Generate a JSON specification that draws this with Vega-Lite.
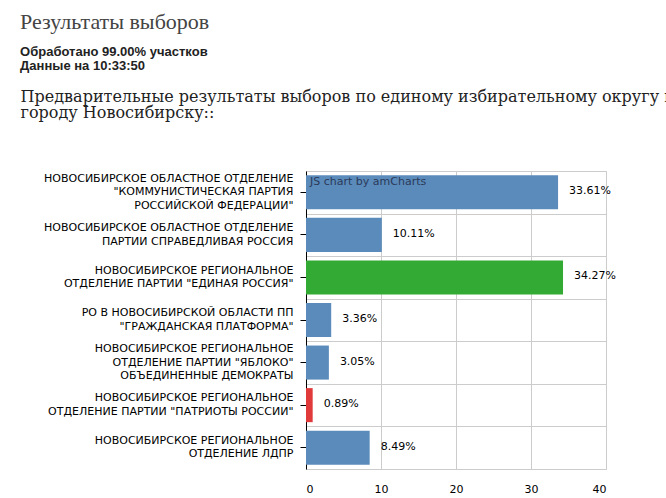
{
  "$schema": "https://vega.github.io/schema/vega-lite/v6.json",
  "background": "white",
  "padding": {"left": 20, "top": 11, "right": 0, "bottom": 0},
  "title": {
    "text": "Результаты выборов",
    "subtitle": ["Обработано 99.00% участков", "Данные на 10:33:50"],
    "anchor": "start",
    "font": "Liberation Serif",
    "fontSize": 22,
    "fontWeight": "normal",
    "color": "#444444",
    "subtitleFont": "Liberation Sans",
    "subtitleFontSize": 13,
    "subtitleFontWeight": "bold",
    "subtitleColor": "#222222",
    "subtitleLineHeight": 13.5,
    "subtitlePadding": 12,
    "offset": 15
  },
  "vconcat": [
    {
      "width": 300,
      "height": 298,
      "title": {
        "text": ["Предварительные результаты выборов по единому избирательному округу по", "городу Новосибирску::"],
        "anchor": "start",
        "font": "DejaVu Serif",
        "fontSize": 16,
        "fontWeight": "normal",
        "color": "#222222",
        "lineHeight": 16,
        "offset": 50,
        "dx": -23
      },
      "data": {
        "values": [
          {"party": "НОВОСИБИРСКОЕ ОБЛАСТНОЕ ОТДЕЛЕНИЕ|\"КОММУНИСТИЧЕСКАЯ ПАРТИЯ|РОССИЙСКОЙ ФЕДЕРАЦИИ\"", "pct": 33.61},
          {"party": "НОВОСИБИРСКОЕ ОБЛАСТНОЕ ОТДЕЛЕНИЕ|ПАРТИИ СПРАВЕДЛИВАЯ РОССИЯ", "pct": 10.11},
          {"party": "НОВОСИБИРСКОЕ РЕГИОНАЛЬНОЕ|ОТДЕЛЕНИЕ ПАРТИИ \"ЕДИНАЯ РОССИЯ\"", "pct": 34.27},
          {"party": "РО В НОВОСИБИРСКОЙ ОБЛАСТИ ПП|\"ГРАЖДАНСКАЯ ПЛАТФОРМА\"", "pct": 3.36},
          {"party": "НОВОСИБИРСКОЕ РЕГИОНАЛЬНОЕ|ОТДЕЛЕНИЕ ПАРТИИ \"ЯБЛОКО\"|ОБЪЕДИНЕННЫЕ ДЕМОКРАТЫ", "pct": 3.05},
          {"party": "НОВОСИБИРСКОЕ РЕГИОНАЛЬНОЕ|ОТДЕЛЕНИЕ ПАРТИИ \"ПАТРИОТЫ РОССИИ\"", "pct": 0.89},
          {"party": "НОВОСИБИРСКОЕ РЕГИОНАЛЬНОЕ|ОТДЕЛЕНИЕ ЛДПР", "pct": 8.49}
        ]
      },
      "resolve": {"scale": {"y": "shared", "x": "shared"}, "axis": {"y": "independent"}},
      "layer": [
        {
          "mark": {"type": "bar", "height": {"band": 0.8}},
          "encoding": {
            "y": {
              "field": "party",
              "type": "nominal",
              "sort": null,
              "scale": {"paddingInner": 0, "paddingOuter": 0},
              "axis": {
                "title": null,
                "orient": "left",
                "labelExpr": "split(datum.value, '|')",
                "labelFont": "DejaVu Sans",
                "labelFontSize": 11,
                "labelColor": "#000000",
                "labelLineHeight": 13.5,
                "labelLimit": 400,
                "labelPadding": 7,
                "labelAlign": "right",
                "labelBaseline": "middle",
                "labelOffset": {
                  "condition": {"test": "length(split(datum.value, '|')) >= 3", "value": -13.5},
                  "value": -6.75
                },
                "tickColor": "#000000",
                "tickSize": 6,
                "domainColor": "#000000",
                "grid": false
              }
            },
            "x": {
              "field": "pct",
              "type": "quantitative",
              "scale": {"domain": [0, 40], "nice": false},
              "axis": {
                "title": null,
                "values": [0, 10, 20, 30, 40],
                "grid": true,
                "gridColor": "#cccccc",
                "domain": false,
                "ticks": false,
                "labelFont": "DejaVu Sans",
                "labelFontSize": 11,
                "labelColor": "#000000",
                "labelPadding": 14
              }
            },
            "color": {
              "field": "party",
              "type": "nominal",
              "legend": null,
              "scale": {
                "domain": [
                  "НОВОСИБИРСКОЕ ОБЛАСТНОЕ ОТДЕЛЕНИЕ|\"КОММУНИСТИЧЕСКАЯ ПАРТИЯ|РОССИЙСКОЙ ФЕДЕРАЦИИ\"",
                  "НОВОСИБИРСКОЕ ОБЛАСТНОЕ ОТДЕЛЕНИЕ|ПАРТИИ СПРАВЕДЛИВАЯ РОССИЯ",
                  "НОВОСИБИРСКОЕ РЕГИОНАЛЬНОЕ|ОТДЕЛЕНИЕ ПАРТИИ \"ЕДИНАЯ РОССИЯ\"",
                  "РО В НОВОСИБИРСКОЙ ОБЛАСТИ ПП|\"ГРАЖДАНСКАЯ ПЛАТФОРМА\"",
                  "НОВОСИБИРСКОЕ РЕГИОНАЛЬНОЕ|ОТДЕЛЕНИЕ ПАРТИИ \"ЯБЛОКО\"|ОБЪЕДИНЕННЫЕ ДЕМОКРАТЫ",
                  "НОВОСИБИРСКОЕ РЕГИОНАЛЬНОЕ|ОТДЕЛЕНИЕ ПАРТИИ \"ПАТРИОТЫ РОССИИ\"",
                  "НОВОСИБИРСКОЕ РЕГИОНАЛЬНОЕ|ОТДЕЛЕНИЕ ЛДПР"
                ],
                "range": ["#5b8bba", "#5b8bba", "#33aa33", "#5b8bba", "#5b8bba", "#e03a3a", "#5b8bba"]
              }
            }
          }
        },
        {
          "transform": [{"calculate": "format(datum.pct, '.2f') + '%'", "as": "pctLabel"}],
          "mark": {"type": "text", "align": "left", "baseline": "middle", "dx": 11, "dy": -1, "font": "DejaVu Sans", "fontSize": 11, "color": "#000000"},
          "encoding": {
            "y": {
              "field": "party",
              "type": "nominal",
              "sort": null,
              "axis": {
                "orient": "right",
                "title": null,
                "labels": false,
                "ticks": false,
                "domain": false,
                "grid": true,
                "gridColor": "#cccccc",
                "tickBand": "extent"
              }
            },
            "x": {"field": "pct", "type": "quantitative"},
            "text": {"field": "pctLabel"}
          }
        },
        {
          "data": {"values": [{"note": "JS chart by amCharts"}]},
          "mark": {"type": "text", "align": "left", "baseline": "middle", "dx": 4, "dy": -10, "font": "DejaVu Sans", "fontSize": 11, "color": "#2a3a5a"},
          "encoding": {
            "y": {"datum": "НОВОСИБИРСКОЕ ОБЛАСТНОЕ ОТДЕЛЕНИЕ|\"КОММУНИСТИЧЕСКАЯ ПАРТИЯ|РОССИЙСКОЙ ФЕДЕРАЦИИ\"", "type": "nominal", "axis": null},
            "x": {"datum": 0, "type": "quantitative"},
            "text": {"field": "note"}
          }
        }
      ]
    }
  ],
  "config": {
    "view": {"stroke": "#cccccc"}
  }
}
